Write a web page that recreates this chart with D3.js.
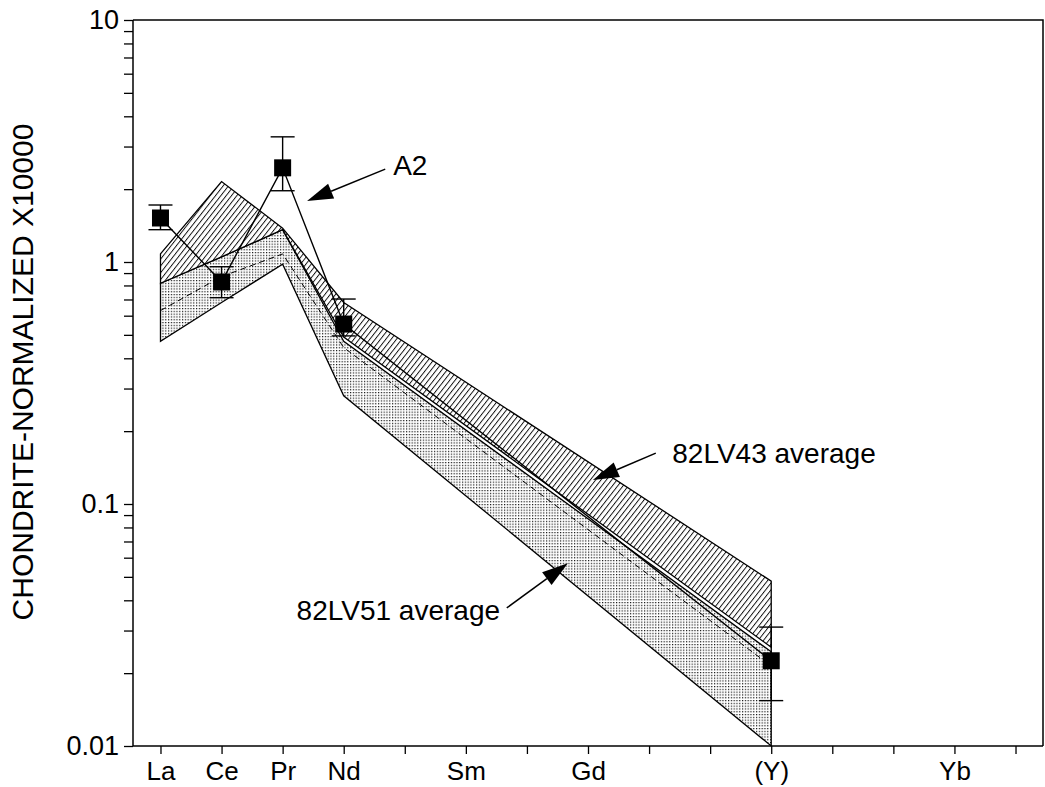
<!DOCTYPE html>
<html>
<head>
<meta charset="utf-8">
<script src="https://cdn.jsdelivr.net/npm/d3@7"></script>
<style>
  body { margin: 0; background: #fff; }
  text { font-family: "Liberation Sans", Arial, Helvetica, sans-serif; fill: #000; }
</style>
</head>
<body>
<div id="chart"></div>
<script>
// element positions along the x axis (Y is plotted in the Ho slot)
const elements = ['La', 'Ce', 'Pr', 'Nd', 'Pm', 'Sm', 'Eu', 'Gd', 'Tb', 'Dy', 'Ho', 'Er', 'Tm', 'Yb', 'Lu']
const tickLabels = { La: 'La', Ce: 'Ce', Pr: 'Pr', Nd: 'Nd', Sm: 'Sm', Gd: 'Gd', Ho: '(Y)', Yb: 'Yb' }
const yTicks = [0.01, 0.1, 1, 10]

// A2 sample
const a2Elements = ['La', 'Ce', 'Pr', 'Nd', 'Ho']
const a2Values = [1.52, 0.827, 2.45, 0.554, 0.0225]
const a2Low = [1.36, 0.712, 1.97, 0.495, 0.0154]
const a2High = [1.72, 0.956, 3.29, 0.703, 0.031]

// 82LV43 range (hatched)
const bandElements = ['La', 'Ce', 'Pr', 'Nd', 'Ho']
const lv43Upper = [1.08, 2.15, 1.38, 0.68, 0.048]
const lv43Lower = [0.817, 1.05, 1.36, 0.49, 0.0256]

// 82LV51 range (stippled) and its dashed line
const lv51Upper = [0.817, 1.05, 1.36, 0.47, 0.0245]
const lv51Lower = [0.47, 0.68, 0.98, 0.28, 0.01]
const lv51Mid = [0.63, 0.87, 1.08, 0.443, 0.0214]

// labels and arrows, given as [element position, value]
const notes = [
  { text: 'A2', at: [3.81, 2.29], anchor: 'start', tail: [3.68, 2.42], tip: [2.4, 1.786] },
  { text: '82LV43 average', at: [8.38, 0.148], anchor: 'start', tail: [8.11, 0.1623], tip: [7.08, 0.1257] },
  { text: '82LV51 average', at: [5.56, 0.0331], anchor: 'end', tail: [5.67, 0.0372], tip: [6.67, 0.0569] }
]

const width = 1045
const height = 787
const margin = { left: 133, right: 2, top: 20, bottom: 41 }

const svg = d3.select('#chart').append('svg')
  .attr('width', width)
  .attr('height', height)

const x = d3.scaleLinear()
  .domain([-0.45, elements.length - 1 + 0.45])
  .range([margin.left, width - margin.right])
const y = d3.scaleLog()
  .domain([0.01, 10])
  .range([height - margin.bottom, margin.top])

const xi = name => x(elements.indexOf(name))

// fill patterns
const defs = svg.append('defs')
const hatch = defs.append('pattern')
  .attr('id', 'hatch')
  .attr('patternUnits', 'userSpaceOnUse')
  .attr('width', 4.2).attr('height', 4)
  .attr('patternTransform', 'rotate(38)')
hatch.append('rect').attr('width', 4.2).attr('height', 4).attr('fill', '#fff')
hatch.append('line')
  .attr('x1', 0.5).attr('y1', 0).attr('x2', 0.5).attr('y2', 4)
  .attr('stroke', '#000').attr('stroke-width', 0.9)

const dots = defs.append('pattern')
  .attr('id', 'dots')
  .attr('patternUnits', 'userSpaceOnUse')
  .attr('width', 2.8).attr('height', 2.8)
dots.append('rect').attr('width', 2.8).attr('height', 2.8).attr('fill', '#fff')
dots.append('rect').attr('width', 1.2).attr('height', 1.2).attr('fill', '#111')

const area = d3.area()
  .x((d, i) => xi(bandElements[i]))
  .y0(d => y(d[0]))
  .y1(d => y(d[1]))
const line = d3.line()
  .x(d => xi(d[0]))
  .y(d => y(d[1]))

const plot = svg.append('g')

// stippled band, then hatched band on top
plot.append('path')
  .attr('d', area(d3.zip(lv51Lower, lv51Upper)))
  .attr('fill', 'url(#dots)')
  .attr('stroke', '#000').attr('stroke-width', 1.3)
plot.append('path')
  .attr('d', area(d3.zip(lv43Lower, lv43Upper)))
  .attr('fill', 'url(#hatch)')
  .attr('stroke', '#000').attr('stroke-width', 1.3)
plot.append('path')
  .attr('d', line(d3.zip(bandElements, lv51Mid)))
  .attr('fill', 'none')
  .attr('stroke', '#000').attr('stroke-width', 1)
  .attr('stroke-dasharray', '6,4')

// A2 line, error bars and squares
const a2 = a2Elements.map((e, i) => ({ e, v: a2Values[i], lo: a2Low[i], hi: a2High[i] }))
plot.append('path')
  .attr('d', line(a2.map(d => [d.e, d.v])))
  .attr('fill', 'none')
  .attr('stroke', '#000').attr('stroke-width', 1.4)

const bars = plot.selectAll('.err').data(a2).join('g').attr('class', 'err')
bars.append('line')
  .attr('x1', d => xi(d.e)).attr('x2', d => xi(d.e))
  .attr('y1', d => y(d.lo)).attr('y2', d => y(d.hi))
  .attr('stroke', '#000').attr('stroke-width', 1.4)
bars.selectAll('.cap').data(d => [[d.e, d.lo], [d.e, d.hi]]).join('line')
  .attr('class', 'cap')
  .attr('x1', d => xi(d[0]) - 12).attr('x2', d => xi(d[0]) + 12)
  .attr('y1', d => y(d[1])).attr('y2', d => y(d[1]))
  .attr('stroke', '#000').attr('stroke-width', 1.4)

plot.selectAll('.sq').data(a2).join('rect')
  .attr('class', 'sq')
  .attr('x', d => xi(d.e) - 8.5).attr('y', d => y(d.v) - 8.5)
  .attr('width', 17).attr('height', 17)
  .attr('fill', '#000')

// annotations
const toXY = p => [x(p[0]), y(p[1])]
notes.forEach(n => {
  const [tx, ty] = toXY(n.tail)
  const [px, py] = toXY(n.tip)
  const ang = Math.atan2(py - ty, px - tx)
  const len = 26
  const half = 8
  const bx = px - len * Math.cos(ang)
  const by = py - len * Math.sin(ang)
  svg.append('line')
    .attr('x1', tx).attr('y1', ty).attr('x2', bx).attr('y2', by)
    .attr('stroke', '#000').attr('stroke-width', 1.5)
  svg.append('path')
    .attr('d', `M${px},${py}L${bx + half * Math.sin(ang)},${by - half * Math.cos(ang)}L${bx - half * Math.sin(ang)},${by + half * Math.cos(ang)}Z`)
    .attr('fill', '#000')
  const [lx, ly] = toXY(n.at)
  svg.append('text')
    .attr('x', lx).attr('y', ly)
    .attr('text-anchor', n.anchor)
    .style('font-size', '28px')
    .text(n.text)
})

// axes
const xAxis = d3.axisBottom(x)
  .tickValues(d3.range(elements.length))
  .tickSize(8)
  .tickPadding(8)
  .tickFormat(i => tickLabels[elements[i]] || '')
const gx = svg.append('g')
  .attr('transform', `translate(0, ${height - margin.bottom})`)
  .call(xAxis)
gx.select('.domain').attr('d', `M${margin.left},0H${width - margin.right}`).attr('stroke-width', 1.5)
gx.selectAll('.tick line').attr('stroke-width', 1.3)
gx.selectAll('.tick text').style('font-size', '26px').attr('font-family', null)

const minor = d3.range(-2, 1).flatMap(p => d3.range(2, 10).map(m => m * Math.pow(10, p)))
svg.append('g')
  .attr('transform', `translate(${margin.left}, 0)`)
  .call(d3.axisLeft(y).tickValues(minor).tickSize(9).tickFormat(''))
  .call(g => g.select('.domain').remove())
  .selectAll('.tick line').attr('stroke-width', 1.3)
const gy = svg.append('g')
  .attr('transform', `translate(${margin.left}, 0)`)
  .call(d3.axisLeft(y).tickValues(yTicks).tickSize(9).tickPadding(5).tickFormat(d => String(d)))
gy.select('.domain').attr('d', `M0,${height - margin.bottom}V${margin.top}`).attr('stroke-width', 1.5)
gy.selectAll('.tick line').attr('stroke-width', 1.3)
gy.selectAll('.tick text').style('font-size', '27px').attr('font-family', null)

// frame top and right
svg.append('path')
  .attr('d', `M${margin.left},${margin.top}H${width - margin.right}V${height - margin.bottom}`)
  .attr('fill', 'none').attr('stroke', '#000').attr('stroke-width', 1.5)

svg.append('text')
  .attr('transform', `translate(33, ${(margin.top + height - margin.bottom) / 2 - 11}) rotate(-90)`)
  .attr('text-anchor', 'middle')
  .style('font-size', '30px')
  .text('CHONDRITE-NORMALIZED X10000')
</script>
</body>
</html>
